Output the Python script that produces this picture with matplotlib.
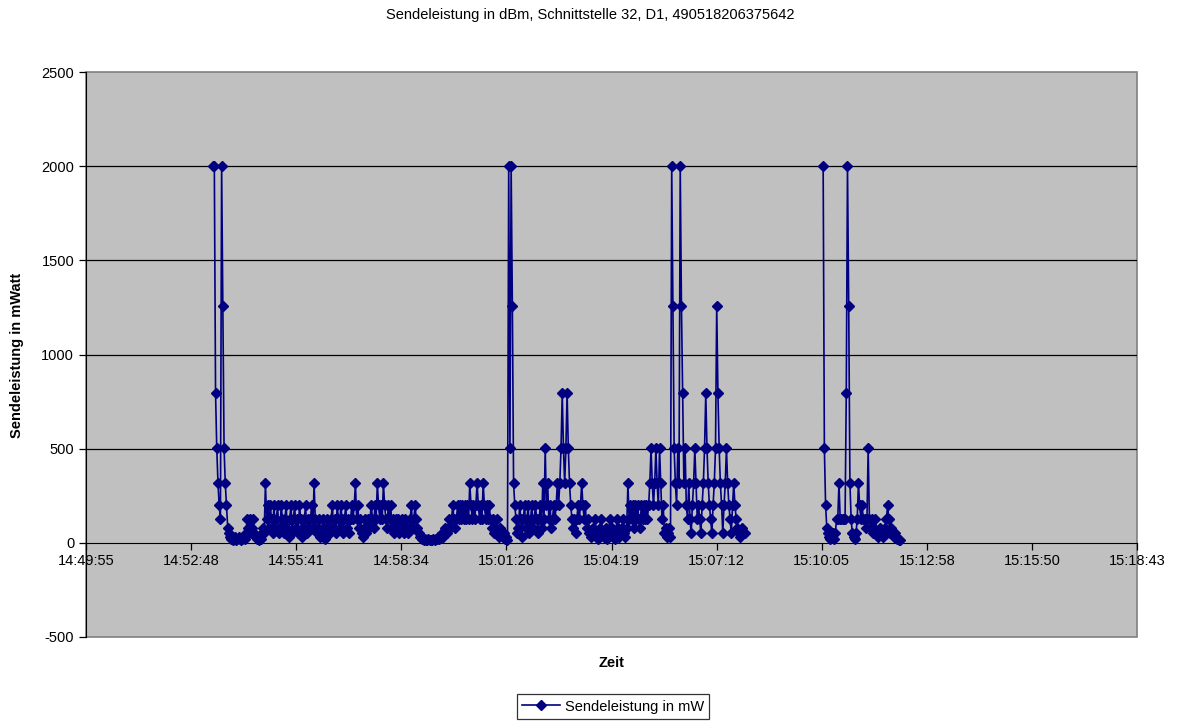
import matplotlib
matplotlib.use("Agg")
import matplotlib.pyplot as plt
from matplotlib.patches import Rectangle
import numpy as np

plt.rcParams['font.family'] = ['Liberation Sans', 'DejaVu Sans']
plt.rcParams['axes.unicode_minus'] = False

# time axis labels (Excel style, one step = 0.002 days)
tick_labels = ['14:49:55', '14:52:48', '14:55:41', '14:58:34', '15:01:26', '15:04:19',
               '15:07:12', '15:10:05', '15:12:58', '15:15:50', '15:18:43']
y_ticks = [-500, 0, 500, 1000, 1500, 2000, 2500]

# measurements, one value every SAMPLE_SEC seconds
SAMPLE_SEC = 2
start_a = '14:53:24'
power_a = [
    2000, 2000, 794, 501, 316, 200, 126, 2000, 1259, 501, 316, 200, 79,
    50, 32, 20, 13, 20, 32, 13, 20, 32, 20, 13, 20, 32, 20,
    50, 126, 79, 126, 50, 79, 126, 50, 32,
    20, 32, 13, 20, 50, 79, 50,
    316, 126, 200,
    79, 200, 126, 50, 200, 79, 126, 200, 50, 79,
    200, 126, 50, 126, 200, 79, 32, 126, 200, 50,
    126, 200, 79, 126, 50, 200, 126, 32, 79, 126,
    200, 50, 126, 79, 126, 200, 79, 316, 126, 50,
    79, 126, 32, 50, 126, 79, 20, 50, 126, 79,
    50, 126, 200, 79, 126, 50, 200, 126, 79, 200,
    126, 50, 126, 200, 79, 126, 50, 126, 200, 126,
    200, 316, 126, 200, 79, 126, 50, 32, 79, 126,
    50, 126, 79, 126, 200, 126, 79, 200, 126, 316,
    200, 126, 200, 126, 316, 200, 126, 79, 200, 126,
    200, 79, 126, 50, 126, 79, 126, 50, 79, 126,
    79, 50, 126, 79, 50, 79, 126, 200, 79, 126,
    200, 126, 79, 50, 32,
    32, 20, 13, 20, 13, 13, 20, 13, 13, 13, 20, 13, 20, 20, 32, 20, 32, 50, 32, 50,
    79, 50, 79, 126,
    79, 126, 200, 126, 79, 126, 200, 126, 200, 126,
    200, 126, 200, 126, 200, 126, 316, 200, 126, 200,
    126, 200, 316, 200, 126, 200, 126, 316, 200, 126,
    200, 126, 200, 126,
    79, 126, 50, 79, 126, 50, 32, 79, 50, 32, 50, 20, 32, 13,
    2000, 501, 2000, 1259, 316, 200,
    126, 50, 79, 200, 126, 32, 126, 200, 79, 126, 200, 50, 126, 200, 79, 126,
    200, 126, 50, 126, 200, 79, 316, 126,
    501, 200, 316, 126, 200, 79, 126, 200, 126, 200, 316, 200, 316, 501, 794,
    501, 316, 501, 794, 501, 316,
    200, 126, 79, 126, 50, 126, 200, 126, 200, 316, 200, 126, 200, 79, 126, 50,
    50, 32, 79, 50, 126, 50, 20, 32, 79, 126, 50, 32, 50, 79, 20, 32, 126, 50,
    79, 32, 20, 50, 126, 79, 32, 50, 79, 126, 50, 32, 79,
    316, 126, 200, 126, 200, 79, 200, 126, 200, 126, 79, 200, 126, 200, 126,
    200, 126, 200,
    316, 501, 316, 200, 316, 501, 316, 200, 501, 316, 126, 200,
    50, 79, 32, 50, 79, 32,
    2000, 1259, 501, 316, 200, 501, 316, 2000, 1259, 794, 316, 501, 200, 126, 316,
    126, 50, 200, 316, 501, 316, 126, 200, 126, 50, 200, 316, 501, 794, 501,
    316, 200, 126, 50, 200, 316, 501, 1259, 794, 501, 316, 200, 50, 200, 316,
    501, 316, 200, 126, 50, 200, 316, 200, 126, 79, 50, 32, 50, 79, 50, 50,
]
start_b = '15:10:07'
power_b = [
    2000, 501, 200, 79, 50, 32, 20, 32, 50, 20, 50, 126, 126, 316, 126, 126,
    126, 126, 126, 794, 2000, 1259, 316, 126, 50, 32, 20, 50, 126, 316, 200,
    126, 200, 126, 126, 79, 126, 501, 126, 79, 126, 50, 79, 126, 50, 32, 50,
    79, 50, 32, 50, 79, 126, 200, 126, 50, 79, 50, 32, 50, 32, 20, 13, 13,
]


def secs(hms):
    h, m, s = map(int, hms.split(':'))
    return h * 3600 + m * 60 + s


t0 = secs(tick_labels[0])
t_a = secs(start_a) - t0 + SAMPLE_SEC * np.arange(len(power_a))
t_b = secs(start_b) - t0 + SAMPLE_SEC * np.arange(len(power_b))
# blank cell between the two recordings -> gap in the line
x = np.concatenate([t_a, [np.nan], t_b])
y = np.concatenate([power_a, [np.nan], power_b])

W, H = 1181, 722
fig = plt.figure(figsize=(W / 100, H / 100), dpi=100)
L, R, T, B = 86, 1137, 72, 637
ax = fig.add_axes([L / W, 1 - B / H, (R - L) / W, (B - T) / H])
ax.set_facecolor('#c0c0c0')

ax.plot(x, y, color='#000080', lw=1.2, marker='D', ms=5.3,
        label='Sendeleistung in mW', zorder=3)

x_ticks = 172.8 * np.arange(len(tick_labels))
ax.set_xlim(x_ticks[0], x_ticks[-1])
ax.set_ylim(y_ticks[0], y_ticks[-1])
ax.set_xticks(x_ticks)
ax.set_xticklabels(tick_labels)
ax.set_yticks(y_ticks)

# gridlines
for v in y_ticks[2:-1]:
    ax.axhline(v, color='black', lw=0.9, zorder=1)

for s in ['top', 'right']:
    ax.spines[s].set_visible(False)
ax.spines['bottom'].set_position(('data', 0))
ax.spines['bottom'].set_zorder(2)
ax.spines['left'].set_color('black')
ax.add_patch(Rectangle((0, 0), 1, 1, transform=ax.transAxes, fill=False,
                       edgecolor='#808080', lw=1.2, zorder=0.5, clip_on=False))

ax.tick_params(axis='both', direction='out', length=5, width=0.9,
               labelsize=10.5, colors='black')
ax.tick_params(axis='x', pad=3)

fig.text(0.5, 1 - 15 / H, 'Sendeleistung in dBm, Schnittstelle 32, D1, 490518206375642',
         ha='center', va='center', fontsize=10.5)
fig.text(17 / W, 1 - 355 / H, 'Sendeleistung in mWatt', rotation=90,
         ha='center', va='center', fontsize=10.5, fontweight='bold')
fig.text(611.5 / W, 1 - 663 / H, 'Zeit', ha='center', va='center',
         fontsize=10.5, fontweight='bold')

leg = fig.legend(loc='center', bbox_to_anchor=(613 / W, 1 - 706.5 / H),
                 fontsize=10.5, frameon=True, fancybox=False, edgecolor='black',
                 handlelength=2.6, borderpad=0.35, handletextpad=0.3,
                 borderaxespad=0)
leg.get_frame().set_linewidth(0.9)

fig.savefig('out.png', dpi=100)
